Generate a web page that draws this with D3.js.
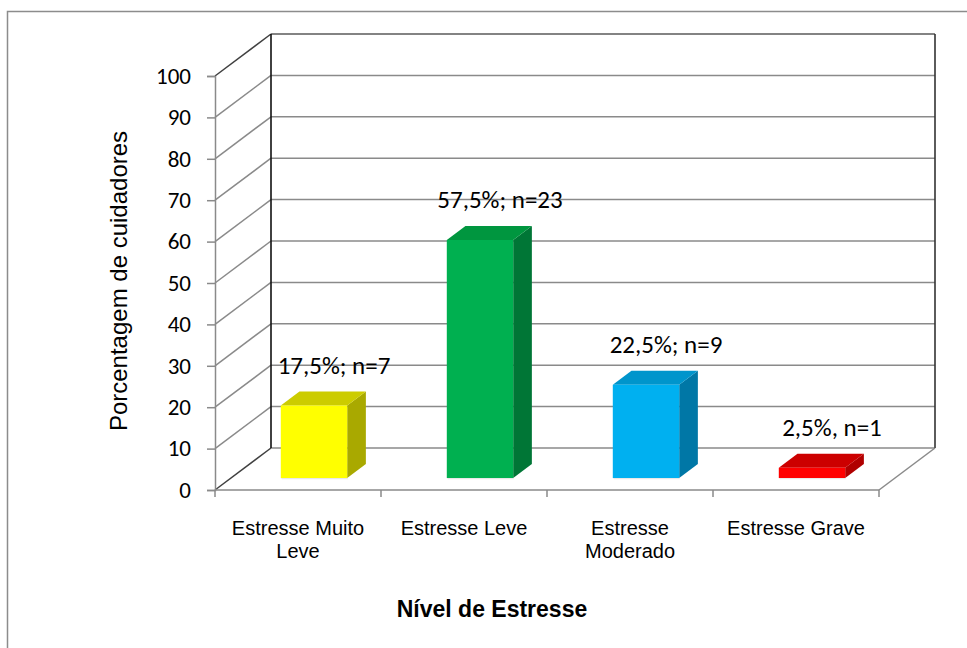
<!DOCTYPE html>
<html>
<head>
<meta charset="utf-8">
<script src="https://cdn.jsdelivr.net/npm/d3@7"></script>
<style>
  body { margin: 0; background: white; }
  svg { display: block; }
</style>
</head>
<body>
<div id="grafico"></div>
<script>
// dados
var categorias = [["Estresse Muito", "Leve"], ["Estresse Leve"], ["Estresse", "Moderado"], ["Estresse Grave"]];
var valores = [17.5, 57.5, 22.5, 2.5];
var rotulos = ["17,5%; n=7", "57,5%; n=23", "22,5%; n=9", "2,5%, n=1"];
var coresFrente = ["#ffff00", "#00b050", "#00b0f0", "#ff0000"];
var coresLado = ["#a9a900", "#007636", "#0077a6", "#b00000"];
var coresTopo = ["#cccc00", "#00963f", "#0095cc", "#cc0000"];
var ticksY = [0, 10, 20, 30, 40, 50, 60, 70, 80, 90, 100];

var width = 967, height = 648;

var svg = d3.select("#grafico")
  .append("svg")
  .attr("width", width)
  .attr("height", height)
  .style("background", "white");

// borda externa
svg.append("rect")
  .attr("x", 7.5).attr("y", 11.5)
  .attr("width", 980).attr("height", 660)
  .attr("fill", "none")
  .attr("stroke", "#8c8c8c")
  .attr("stroke-width", 1.5);

var x0 = 215, x1 = 879;
var profX = 56, profY = 42;   // profundidade 3D

var yscale = d3.scaleLinear().domain([0, 100]).range([490, 76]);
var idx = d3.range(categorias.length);
var xscale = d3.scaleBand().domain(idx).range([x0, x1]).paddingInner(0.6).paddingOuter(0.3);
var xcat = d3.scaleBand().domain(idx).range([x0, x1]);

function proj(x, v, t) {
  return [x + profX * t, yscale(v) - profY * t];
}

// linhas de grade (parede lateral + parede de fundo)
var grade = svg.append("g");
ticksY.forEach(function (v) {
  var a = proj(x0, v, 0), b = proj(x0, v, 1), c = proj(x1, v, 1);
  var escura = (v === 0 || v === 100);
  grade.append("line")
    .attr("x1", a[0]).attr("y1", a[1]).attr("x2", b[0]).attr("y2", b[1])
    .attr("stroke", escura ? "#404040" : "#8a8a8a")
    .attr("stroke-width", 1.5);
  grade.append("line")
    .attr("x1", b[0]).attr("y1", b[1]).attr("x2", c[0]).attr("y2", c[1])
    .attr("stroke", v === 100 ? "#5a5a5a" : "#8a8a8a")
    .attr("stroke-width", 1.5);
});

// cantos da parede do fundo
[x0, x1].forEach(function (xx, i) {
  var a = proj(xx, 0, 1), b = proj(xx, 100, 1);
  grade.append("line")
    .attr("x1", a[0]).attr("y1", a[1]).attr("x2", b[0]).attr("y2", b[1])
    .attr("stroke", i === 0 ? "#111" : "#333")
    .attr("stroke-width", 1.6);
});

// chão
var f1 = proj(x1, 0, 0), f2 = proj(x1, 0, 1);
grade.append("line")
  .attr("x1", f1[0]).attr("y1", f1[1]).attr("x2", f2[0]).attr("y2", f2[1])
  .attr("stroke", "#8a8a8a").attr("stroke-width", 1.5);

// eixo Y frontal
var eixoY = svg.append("g").attr("transform", "translate(" + x0 + ",0)");
eixoY.call(d3.axisLeft(yscale).tickValues(ticksY).tickSize(8).tickPadding(16).tickFormat(d3.format("d")));
eixoY.select(".domain").attr("stroke", "#8a8a8a").attr("stroke-width", 1.5);
eixoY.selectAll(".tick line").attr("stroke", "#8a8a8a").attr("stroke-width", 1.5);
eixoY.selectAll("text")
  .attr("fill", "#000")
  .style("font-family", "Carlito, Lato, 'Open Sans', sans-serif")
  .style("font-size", "23px");

// eixo X frontal
var eixoX = svg.append("g").attr("transform", "translate(0," + yscale(0) + ")");
eixoX.append("line")
  .attr("x1", x0).attr("x2", x1).attr("y1", 0).attr("y2", 0)
  .attr("stroke", "#8a8a8a").attr("stroke-width", 1.5);
eixoX.selectAll("line.tk")
  .data(idx.concat([idx.length]))
  .enter().append("line")
  .attr("class", "tk")
  .attr("x1", d => x0 + d * xcat.step()).attr("x2", d => x0 + d * xcat.step())
  .attr("y1", 0).attr("y2", 7)
  .attr("stroke", "#8a8a8a").attr("stroke-width", 1.5);

var catTxt = eixoX.selectAll("text.cat")
  .data(categorias)
  .enter().append("text")
  .attr("class", "cat")
  .attr("text-anchor", "middle")
  .attr("y", 45)
  .style("font-family", "'Liberation Sans', Arial, sans-serif")
  .style("font-size", "20px");
catTxt.selectAll("tspan")
  .data((d, i) => d.map(s => ({ s: s, i: i })))
  .enter().append("tspan")
  .attr("x", d => xcat(d.i) + xcat.bandwidth() / 2)
  .attr("dy", (d, j) => j === 0 ? 0 : 23)
  .text(d => d.s);

// barras 3D
var t0 = 12 / 42, t1 = 26 / 42;
var barras = svg.append("g").selectAll("g")
  .data(valores)
  .enter().append("g");

function poli(pts) { return pts.map(p => p.join(",")).join(" "); }

barras.append("polygon")
  .attr("points", (v, i) => {
    var a = xscale(i), b = xscale(i) + xscale.bandwidth();
    return poli([proj(a, 0, t0), proj(b, 0, t0), proj(b + 3, 0, t0 - 0.03), proj(a + 3, 0, t0 - 0.03)]);
  })
  .attr("fill", "#d9d9d9").attr("opacity", 0.6);

barras.append("polygon")
  .attr("points", (v, i) => {
    var b = xscale(i) + xscale.bandwidth();
    return poli([proj(b, 0, t0), proj(b, 0, t1), proj(b, v, t1), proj(b, v, t0)]);
  })
  .attr("fill", (v, i) => coresLado[i]);

barras.append("polygon")
  .attr("points", (v, i) => {
    var a = xscale(i), b = xscale(i) + xscale.bandwidth();
    return poli([proj(a, v, t0), proj(b, v, t0), proj(b, v, t1), proj(a, v, t1)]);
  })
  .attr("fill", (v, i) => coresTopo[i]);

barras.append("polygon")
  .attr("points", (v, i) => {
    var a = xscale(i), b = xscale(i) + xscale.bandwidth();
    return poli([proj(a, 0, t0), proj(b, 0, t0), proj(b, v, t0), proj(a, v, t0)]);
  })
  .attr("fill", (v, i) => coresFrente[i]);

// rótulos de dados
svg.append("g").selectAll("text")
  .data(valores)
  .enter().append("text")
  .attr("x", (v, i) => xcat(i) + xcat.bandwidth() / 2 + 36)
  .attr("y", v => yscale(v + 10.5))
  .attr("text-anchor", "middle")
  .style("font-family", "Carlito, Lato, 'Open Sans', sans-serif")
  .style("font-size", "25px")
  .text((v, i) => rotulos[i]);

// títulos
svg.append("text")
  .attr("transform", "translate(127," + (yscale(50) - 2) + ")rotate(-90)")
  .attr("text-anchor", "middle")
  .style("font-family", "'Liberation Sans', Arial, sans-serif")
  .style("font-size", "24px")
  .text("Porcentagem de cuidadores");

svg.append("text")
  .attr("x", 492)
  .attr("y", 617)
  .attr("text-anchor", "middle")
  .style("font-family", "'Liberation Sans', Arial, sans-serif")
  .style("font-size", "23px")
  .style("font-weight", "bold")
  .text("Nível de Estresse");
</script>
</body>
</html>
